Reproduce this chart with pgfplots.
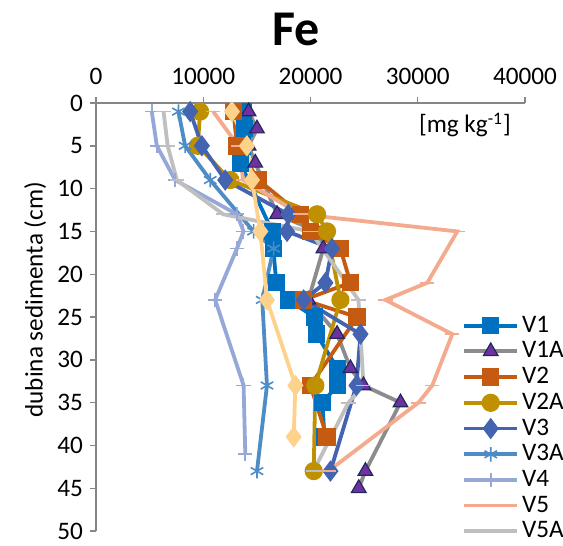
\documentclass[border=0pt]{standalone}
\usepackage{fontspec}
\setmainfont{Carlito}
\usepackage{pgfplots}
\pgfplotsset{compat=1.18}
\definecolor{cVa}{HTML}{0070C0}
\definecolor{cVaA}{HTML}{8C8C8C}
\definecolor{cTri}{HTML}{7030A0}
\definecolor{cTriE}{HTML}{1F2A5C}
\definecolor{cVb}{HTML}{C55A11}
\definecolor{cVbA}{HTML}{BF9000}
\definecolor{cVc}{HTML}{4464B2}
\definecolor{cVcA}{HTML}{4E8CC6}
\definecolor{cVd}{HTML}{95A8D8}
\definecolor{cVe}{HTML}{F4AA8E}
\definecolor{cVeA}{HTML}{BFBFBF}
\definecolor{cVf}{HTML}{FFD28C}
\definecolor{axgray}{HTML}{868686}
\newcommand\fs{\fontsize{12.6}{15}\selectfont}
\begin{document}
\begin{tikzpicture}
\begin{axis}[
  scale only axis, width=214.5pt, height=214pt,
  xmin=0, xmax=40000, ymin=0, ymax=50,
  y dir=reverse,
  axis x line*=top, axis y line*=left,
  axis line style={draw=axgray, line width=0.7pt},
  tick style={draw=axgray, line width=0.7pt},
  tick align=outside, major tick length=3pt,
  xtick={0,10000,20000,30000,40000},
  ytick={0,5,...,50},
  scaled x ticks=false,
  /pgf/number format/.cd, 1000 sep={}, assume math mode=true,
  /pgfplots/.cd,
  ticklabel style={font=\fs},
  xticklabel style={yshift=2.5pt},
  clip=false,
  legend style={at={(axis description cs:0.853,0.51)}, anchor=north west, draw=none, fill=none,
    font=\fs, inner sep=0pt, row sep=0.2pt, nodes={inner sep=1.5pt}},
  legend cell align=left,
  legend image code/.code={\draw[mark repeat=2,mark phase=2] plot coordinates {(0pt,0pt) (13.25pt,0pt) (26.5pt,0pt)};},
  every axis plot/.append style={line width=1.9pt},
]
\addplot[color=cVa, mark=square*, mark size=3.4pt, mark options={solid}] coordinates {
(13730,1)(13820,3)(13640,5)(13450,7)(16440,15)(16530,17)(16810,21)(17930,23)(20360,25)(20550,27)(22510,31)(22510,33)(21110,35)(21300,39)};
\addlegendentry{V1}
\addplot[color=cVaA, mark=triangle*, mark size=4.2pt, mark options={fill=cTri, draw=cTriE, line width=0.6pt}] coordinates {
(14230,1)(15010,3)(14230,5)(14850,7)(16880,13)(20610,15)(21200,17)(19800,23)(22480,27)(23720,31)(24940,33)(28390,35)(25120,43)(24500,45)};
\addlegendentry{V1A}
\addplot[color=cVb, mark=square*, mark size=3.4pt] coordinates {
(12820,1)(13140,5)(15160,9)(19050,13)(20000,15)(22790,17)(23720,21)(19360,23)(24350,25)(19990,33)(21540,39)};
\addlegendentry{V2}
\addplot[color=cVbA, mark=*, mark size=3.6pt] coordinates {
(9700,1)(9500,5)(12520,9)(20610,13)(21540,15)(22790,23)(20450,33)(20300,43)};
\addlegendentry{V2A}
\addplot[color=cVc, mark=diamond*, mark size=3.8pt] coordinates {
(8780,1)(9870,5)(12050,9)(17930,13)(17810,15)(22010,17)(21390,21)(19360,23)(24660,27)(24280,33)(21860,43)};
\addlegendentry{V3}
\addplot[color=cVcA, mark=asterisk, mark size=3.6pt, mark options={line width=0.8pt}] coordinates {
(7690,1)(8310,5)(10650,9)(14690,15)(16560,17)(15500,23)(15940,33)(15010,43)};
\addlegendentry{V3A}
\addplot[color=cVd, mark=+, mark size=3.6pt, mark options={line width=0.8pt}] coordinates {
(5200,1)(5670,5)(7380,9)(13140,13)(13760,15)(13140,17)(11110,23)(13760,33)(13920,41)};
\addlegendentry{V4}
\addplot[color=cVe, mark=-, mark size=3.6pt, mark options={line width=0.9pt}] coordinates {
(10930,1)(13260,5)(13730,9)(19050,13)(33690,15)(30890,21)(26990,23)(33220,27)(31350,33)(30070,35)(21670,43)};
\addlegendentry{V5}
\addplot[color=cVeA, mark=-, mark size=3.6pt, mark options={line width=0.9pt}] coordinates {
(6300,1)(6680,5)(7540,9)(11860,13)(19990,15)(24470,23)(24940,33)(23540,35)(20270,43)};
\addlegendentry{V5A}
\addplot[forget plot, color=cVf, mark=diamond*, mark size=3.8pt] coordinates {
(12670,1)(14070,5)(14540,9)(15320,15)(15940,23)(18590,33)(18430,39)};
\node[anchor=base, font=\fs] at (axis description cs:0.86,0.93) {[mg kg\textsuperscript{-1}]};
\node[anchor=base, font=\bfseries\fontsize{25}{30}\selectfont] at (axis description cs:0.466,1.135) {Fe};
\node[rotate=90, font=\fs] at (axis description cs:-0.142,0.54) {dubina sedimenta (cm)};
\coordinate (bbSW) at (axis description cs:-0.2238,-0.033);
\coordinate (bbNE) at (axis description cs:1.0886,1.2407);
\end{axis}
\pgfresetboundingbox
\path (bbSW) rectangle (bbNE);
\end{tikzpicture}
\end{document}
